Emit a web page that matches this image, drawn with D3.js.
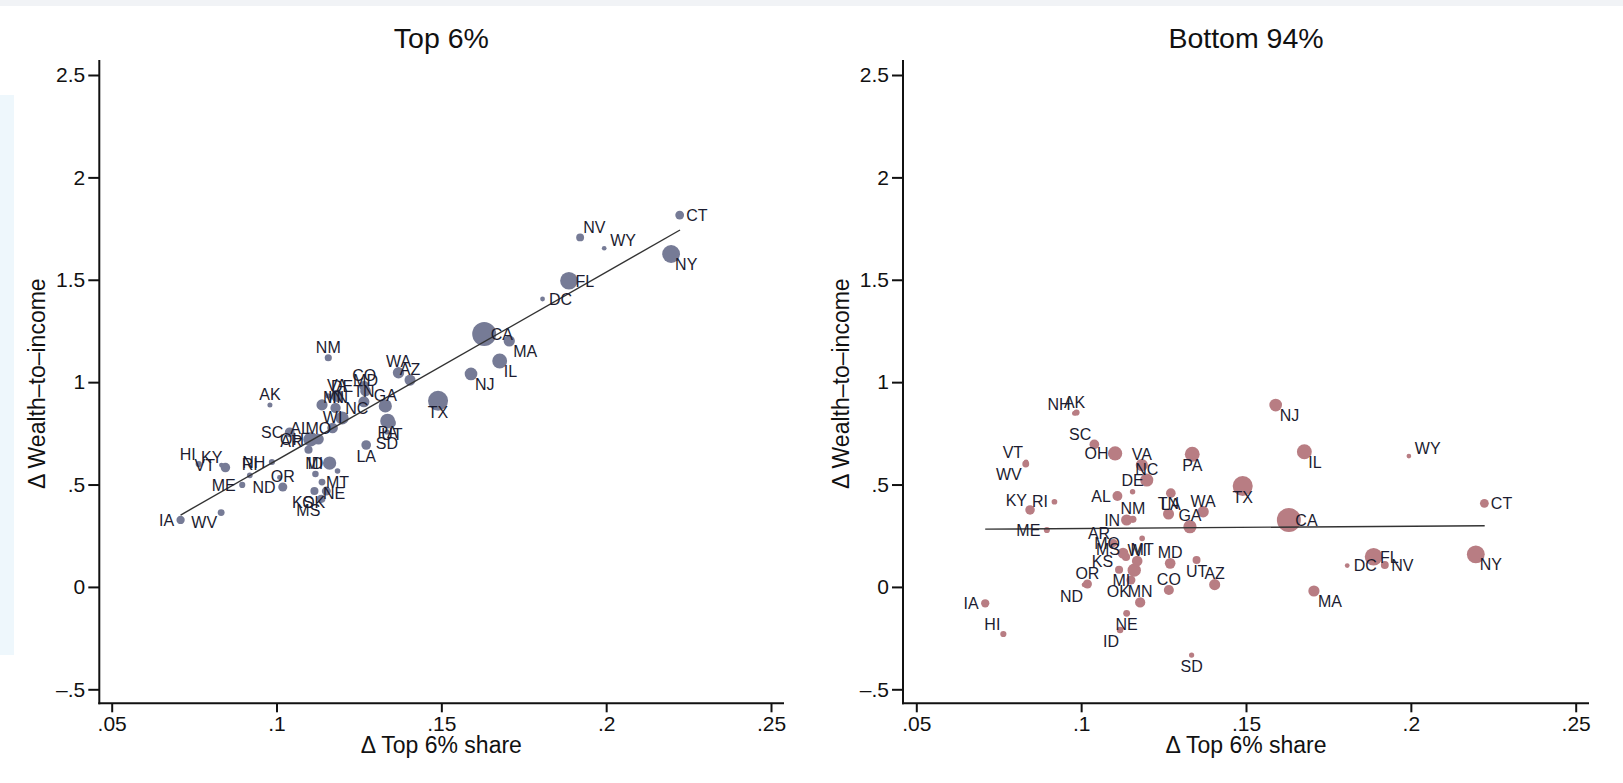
<!DOCTYPE html>
<html lang="en">
<head>
<meta charset="utf-8">
<title>Wealth-to-income vs top share</title>
<script src="https://cdnjs.cloudflare.com/ajax/libs/d3/7.8.5/d3.min.js"></script>
<style>
  body { margin: 0; background: #fff; overflow: hidden; font-family: "Liberation Sans", Arial, sans-serif; }
  .axis line { stroke: #111; stroke-width: 2px; }
  .axis text { font-size: 21px; fill: #111; font-family: "Liberation Sans", Arial, sans-serif; }
  .frame { stroke: #111; stroke-width: 2px; }
  .lbl { font-size: 16px; fill: #1c1c30; }
  .title { font-size: 28.5px; fill: #111; }
  .atitle { font-size: 23px; fill: #111; }
</style>
</head>
<body>
<div id="chart"></div>
<script>
// state codes and values
var states = ["AL","AK","AZ","AR","CA","CO","CT","DE","DC","FL","GA","HI","ID","IL","IN","IA","KS","KY","LA","ME","MD","MA","MI","MN","MS","MO","MT","NE","NV","NH","NJ","NM","NY","NC","ND","OH","OK","OR","PA","RI","SC","SD","TN","TX","UT","VT","VA","WA","WV","WI","WY"];
// change in top 6% share (x, same in both panels)
var shareChange = [0.111,0.098,0.1405,0.1097,0.163,0.1266,0.2223,0.1156,0.1807,0.1887,0.133,0.0764,0.1118,0.1677,0.1138,0.0709,0.1115,0.0845,0.1272,0.0896,0.127,0.1706,0.1161,0.1179,0.1136,0.1127,0.1185,0.1138,0.1921,0.0986,0.159,0.1157,0.2197,0.1199,0.1009,0.1103,0.1151,0.1019,0.1337,0.0919,0.104,0.1335,0.1265,0.149,0.135,0.0833,0.1184,0.137,0.0832,0.117,0.1994];
// change in wealth-to-income, top 6%
var topWealth = [0.727,0.888,1.010,0.67,1.235,0.981,1.816,0.933,1.406,1.495,0.884,0.60,0.551,1.103,0.889,0.327,0.468,0.583,0.693,0.498,0.957,1.201,0.605,0.874,0.43,0.722,0.566,0.512,1.707,0.61,1.04,1.119,1.626,0.825,0.534,0.72,0.468,0.488,0.81,0.545,0.755,0.757,0.904,0.909,0.80,0.595,0.933,1.046,0.363,0.776,1.654];
// change in wealth-to-income, bottom 94%
var bottomWealth = [0.444,0.848,0.011,0.214,0.327,-0.015,0.408,0.465,0.104,0.147,0.294,-0.23,-0.21,0.66,0.327,-0.08,0.084,0.376,0.458,0.278,0.115,-0.02,0.082,-0.076,0.146,0.165,0.237,-0.129,0.107,0.852,0.888,0.33,0.159,0.522,0.01,0.652,0.034,0.014,0.648,0.416,0.696,-0.333,0.356,0.493,0.131,0.61,0.595,0.367,0.60,0.126,0.639];
// marker weights (population, millions)
var popMillions = [4.78,0.71,6.39,2.92,37.25,5.03,3.57,0.90,0.60,18.80,9.69,1.36,1.57,12.83,6.48,3.05,2.85,4.34,4.53,1.33,5.77,6.55,9.88,5.30,2.97,5.99,0.99,1.83,2.70,1.32,8.79,2.06,19.38,9.54,0.67,11.54,3.75,3.83,12.70,1.05,4.63,0.81,6.35,25.15,2.76,0.63,8.00,6.72,1.85,5.69,0.56];

// fitted lines, value at the ends of the x range
var fitX = [0.0709, 0.2224];
var fitTop = [0.351, 1.743];
var fitBottom = [0.282, 0.299];

var xTicks = [0.05, 0.1, 0.15, 0.2, 0.25];
var xTickLabels = [".05", ".1", ".15", ".2", ".25"];
var yTicks = [-0.5, 0, 0.5, 1, 1.5, 2, 2.5];
var yTickLabels = ["\u2013.5", "0", ".5", "1", "1.5", "2", "2.5"];

// marker label clock positions (styling)
var posTop = {AL:11,AK:12,AZ:12,AR:10,CA:3,CO:12,CT:3,DE:1,DC:3,FL:3,GA:12,HI:11,ID:12,IL:4,IN:2,IA:9,KS:7,KY:11,LA:6,ME:9,MD:12,MA:4,MI:9,MN:12,MS:7,MO:12,MT:6,NE:5,NV:1,NH:9,NJ:4,NM:12,NY:4,NC:1,ND:8,OH:9,OK:7,OR:12,PA:6,RI:12,SC:9,SD:6,TN:12,TX:6,UT:6,VT:9,VA:12,WA:12,WV:8,WI:12,WY:2};
var posBottom = {AL:9,AK:12,AZ:12,AR:11,CA:3,CO:12,CT:3,DE:12,DC:3,FL:3,GA:12,HI:11,ID:7,IL:4,IN:9,IA:9,KS:10,KY:11,LA:6,ME:9,MD:12,MA:4,MI:8,MN:12,MS:10,MO:11,MT:6,NE:6,NV:3,NH:10,NJ:4,NM:12,NY:4,NC:12,ND:7,OH:9,OK:7,OR:12,PA:6,RI:9,SC:11,SD:6,TN:12,TX:6,UT:6,VT:11,VA:12,WA:12,WV:8,WI:12,WY:2};

var labelOffset = {
  1: [3, -10, "start"], 2: [6, -8, "start"], 3: [6.5, 0, "start"], 4: [4, 10, "start"],
  5: [1, 11, "start"], 6: [0, 11, "middle"], 7: [-1, 11, "end"], 8: [-4, 10, "end"],
  9: [-6.5, 0, "end"], 10: [-6, -8, "end"], 11: [-3, -10, "end"], 12: [0, -11, "middle"]
};

var width = 1623, height = 783;
var svg = d3.select("#chart").append("svg")
    .attr("width", width)
    .attr("height", height);

// faint screenshot edges
svg.append("rect").attr("x", 0).attr("y", 0).attr("width", width).attr("height", 6).style("fill", "#f1f3f6");
svg.append("rect").attr("x", 0).attr("y", 95).attr("width", 14).attr("height", 560).style("fill", "#eef7fc");

var panels = [
  { title: "Top 6%", yvals: topWealth, fit: fitTop, pos: posTop, color: "#767b96",
    frameL: 99.3, frameR: 784, x0: 111.7, x1: 771 },
  { title: "Bottom 94%", yvals: bottomWealth, fit: fitBottom, pos: posBottom, color: "#b87d83",
    frameL: 903, frameR: 1589, x0: 916.3, x1: 1575.7 }
];

var frameTop = 60, frameBottom = 703.3;
var y = d3.scaleLinear().domain([-0.5, 2.5]).range([689.3, 75]);
var r = function(w) { return 1.0 + 1.8 * Math.sqrt(w); };

panels.forEach(function(p) {
  var x = d3.scaleLinear().domain([0.05, 0.25]).range([p.x0, p.x1]);
  var g = svg.append("g");

  var pts = states.map(function(s, i) {
    return { s: s, x: shareChange[i], y: p.yvals[i], w: popMillions[i] };
  });

  // markers
  g.selectAll("circle.m")
    .data(pts)
    .enter().append("circle")
      .attr("class", "m")
      .attr("cx", function(d) { return x(d.x); })
      .attr("cy", function(d) { return y(d.y); })
      .attr("r", function(d) { return r(d.w); })
      .style("fill", p.color);

  // fit line
  g.append("line")
    .attr("x1", x(fitX[0])).attr("x2", x(fitX[1]))
    .attr("y1", y(p.fit[0])).attr("y2", y(p.fit[1]))
    .style("stroke", "#333")
    .style("stroke-width", 1.4);

  // marker labels
  g.selectAll("text.lbl")
    .data(pts)
    .enter().append("text")
      .attr("class", "lbl")
      .attr("x", function(d) { return x(d.x) + labelOffset[p.pos[d.s]][0]; })
      .attr("y", function(d) { return y(d.y) + labelOffset[p.pos[d.s]][1]; })
      .attr("dy", "0.36em")
      .attr("text-anchor", function(d) { return labelOffset[p.pos[d.s]][2]; })
      .text(function(d) { return d.s; });

  // axes
  var xAxis = d3.axisBottom(x).tickValues(xTicks)
      .tickFormat(function(d, i) { return xTickLabels[i]; })
      .tickSize(9).tickPadding(4);
  var gx = g.append("g").attr("class", "axis")
      .attr("transform", "translate(0," + frameBottom + ")")
      .call(xAxis);
  gx.select(".domain").remove();

  var yAxis = d3.axisLeft(y).tickValues(yTicks)
      .tickFormat(function(d, i) { return yTickLabels[i]; })
      .tickSize(11).tickPadding(3);
  var gy = g.append("g").attr("class", "axis")
      .attr("transform", "translate(" + p.frameL + ",0)")
      .call(yAxis);
  gy.select(".domain").remove();

  g.append("line").attr("class", "frame")
    .attr("x1", p.frameL).attr("x2", p.frameL)
    .attr("y1", frameTop).attr("y2", frameBottom + 1);
  g.append("line").attr("class", "frame")
    .attr("x1", p.frameL - 1).attr("x2", p.frameR)
    .attr("y1", frameBottom).attr("y2", frameBottom);

  // titles
  var cx = (p.x0 + p.x1) / 2;
  g.append("text").attr("class", "title")
    .attr("x", cx).attr("y", 48)
    .attr("text-anchor", "middle")
    .text(p.title);

  g.append("text").attr("class", "atitle")
    .attr("x", cx).attr("y", 753)
    .attr("text-anchor", "middle")
    .text("\u0394 Top 6% share");

  g.append("text").attr("class", "atitle")
    .attr("transform", "translate(" + (p.frameL - 54) + "," + ((frameTop + frameBottom) / 2 + 2) + ") rotate(-90)")
    .attr("text-anchor", "middle")
    .text("\u0394 Wealth\u2013to\u2013income");
});
</script>
</body>
</html>
